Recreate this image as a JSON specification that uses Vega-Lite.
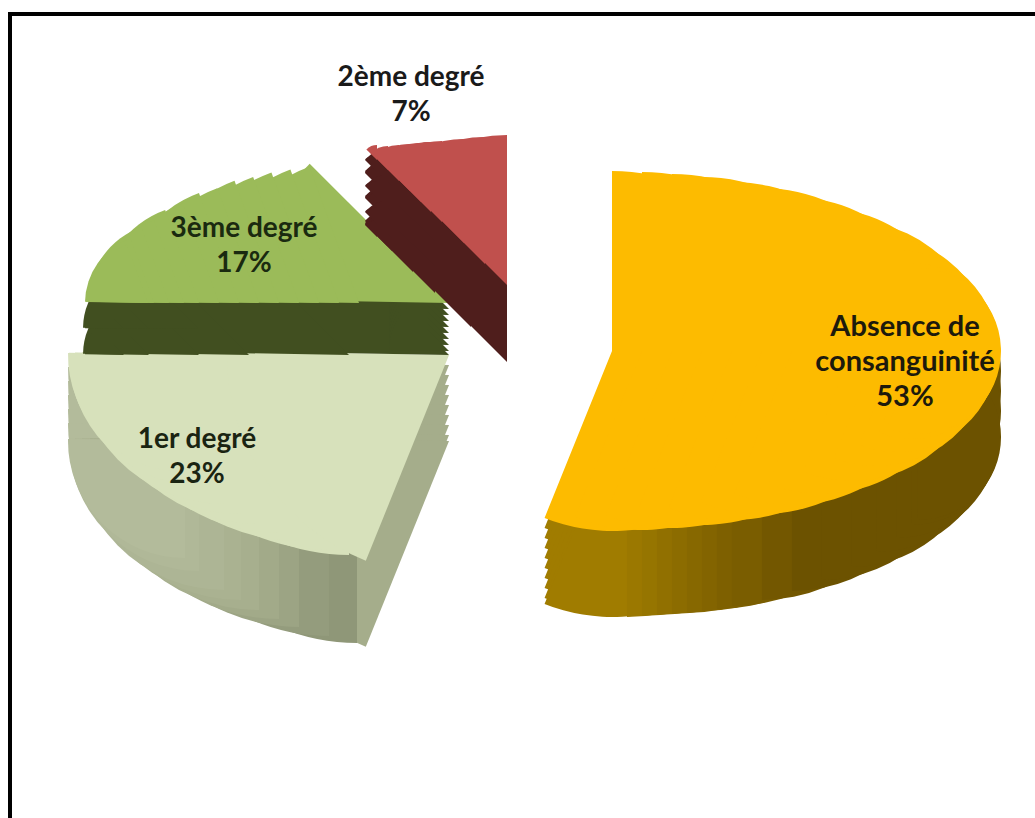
{"$schema":"https://vega.github.io/schema/vega-lite/v6.json","description":"Répartition selon le degré de consanguinité","width":1040,"height":820,"autosize":"none","padding":{"left":10,"top":14,"right":0,"bottom":0},"background":"white","view":{"stroke":"#000","strokeWidth":4,"fill":"white"},
"data":{"values":[{"rang":1,"nom":"Absence de|consanguinité","part":53},{"rang":2,"nom":"1er degré","part":23},{"rang":3,"nom":"3ème degré","part":17},{"rang":4,"nom":"2ème degré","part":7}]},
"transform":[{"stack":"part","groupby":[],"sort":[{"field":"rang"}],"as":["debut","fin"]},{"calculate":"datum.nom+'|'+datum.part+'%'","as":"etiquette"}],
"resolve":{"scale":{"theta":"independent"}},
"layer":[
{"transform":[{"filter":"datum.rang==1"}],"encoding":{"theta":{"field":"debut","type":"quantitative","scale":{"domain":[0,53,76,93,100],"range":[0,3.5256,4.7298,5.4978,6.2832]}},"theta2":{"field":"fin"},"fill":{"value":"#a07c00"}},"layer":[
{"mark":{"type":"arc","outerRadius":180,"xOffset":82,"yOffset":-63}},{"mark":{"type":"arc","outerRadius":180,"xOffset":82,"yOffset":-53}},{"mark":{"type":"arc","outerRadius":180,"xOffset":82,"yOffset":-43}},{"mark":{"type":"arc","outerRadius":180,"xOffset":82,"yOffset":-33}},{"mark":{"type":"arc","outerRadius":180,"xOffset":82,"yOffset":-23}},{"mark":{"type":"arc","outerRadius":180,"xOffset":82,"yOffset":-13}},{"mark":{"type":"arc","outerRadius":180,"xOffset":82,"yOffset":-3}},{"mark":{"type":"arc","outerRadius":180,"xOffset":82,"yOffset":7}},{"mark":{"type":"arc","outerRadius":180,"xOffset":82,"yOffset":13}}
]},
{"transform":[{"filter":"datum.rang==1"}],"encoding":{"theta":{"field":"debut","type":"quantitative","scale":{"domain":[0,53,76,93,100],"range":[0,3.1416,4.7298,5.934,6.2832]}},"theta2":{"field":"fin"}},"layer":[
{"mark":{"type":"arc","fill":"#6c5200","outerRadius":88,"xOffset":382,"yOffset":-53}},{"mark":{"type":"arc","fill":"#6c5200","outerRadius":83,"xOffset":388,"yOffset":-53}},{"mark":{"type":"arc","fill":"#6c5200","outerRadius":88,"xOffset":382,"yOffset":-33}},{"mark":{"type":"arc","fill":"#6c5200","outerRadius":83,"xOffset":388,"yOffset":-33}},{"mark":{"type":"arc","fill":"#6c5200","outerRadius":88,"xOffset":382,"yOffset":-13}},{"mark":{"type":"arc","fill":"#6c5200","outerRadius":83,"xOffset":388,"yOffset":-13}},
{"mark":{"type":"arc","fill":"#9b7800","outerRadius":180,"xOffset":97,"yOffset":13}},{"mark":{"type":"arc","fill":"#967500","outerRadius":179,"xOffset":112,"yOffset":13}},{"mark":{"type":"arc","fill":"#917000","outerRadius":178,"xOffset":127,"yOffset":13}},{"mark":{"type":"arc","fill":"#8c6c00","outerRadius":177,"xOffset":142,"yOffset":13}},{"mark":{"type":"arc","fill":"#876800","outerRadius":176,"xOffset":157,"yOffset":13}},{"mark":{"type":"arc","fill":"#836400","outerRadius":174,"xOffset":172,"yOffset":13}},{"mark":{"type":"arc","fill":"#7e6000","outerRadius":172,"xOffset":187,"yOffset":13}},{"mark":{"type":"arc","fill":"#7a5d00","outerRadius":169,"xOffset":202,"yOffset":13}},{"mark":{"type":"arc","fill":"#735700","outerRadius":163,"xOffset":232,"yOffset":13}},{"mark":{"type":"arc","fill":"#6c5200","outerRadius":154,"xOffset":262,"yOffset":13}},{"mark":{"type":"arc","fill":"#6c5200","outerRadius":143,"xOffset":292,"yOffset":13}},{"mark":{"type":"arc","fill":"#6c5200","outerRadius":130,"xOffset":322,"yOffset":13}},{"mark":{"type":"arc","fill":"#6c5200","outerRadius":115,"xOffset":347,"yOffset":13}},{"mark":{"type":"arc","fill":"#6c5200","outerRadius":101,"xOffset":367,"yOffset":13}},{"mark":{"type":"arc","fill":"#6c5200","outerRadius":88,"xOffset":382,"yOffset":13}},{"mark":{"type":"arc","fill":"#6c5200","outerRadius":83,"xOffset":388,"yOffset":13}}
]},
{"transform":[{"filter":"datum.rang==1"}],"encoding":{"theta":{"field":"debut","type":"quantitative","scale":{"domain":[0,53,76,93,100],"range":[0,3.5256,4.7298,5.4978,6.2832]}},"theta2":{"field":"fin"},"fill":{"value":"#fdbb00"}},"layer":[
{"mark":{"type":"arc","outerRadius":180,"xOffset":82,"yOffset":-73}},{"mark":{"type":"arc","outerRadius":179,"xOffset":112,"yOffset":-73}},{"mark":{"type":"arc","outerRadius":177,"xOffset":142,"yOffset":-73}},{"mark":{"type":"arc","outerRadius":174,"xOffset":172,"yOffset":-73}},{"mark":{"type":"arc","outerRadius":169,"xOffset":202,"yOffset":-73}},{"mark":{"type":"arc","outerRadius":163,"xOffset":232,"yOffset":-73}},{"mark":{"type":"arc","outerRadius":154,"xOffset":262,"yOffset":-73}},{"mark":{"type":"arc","outerRadius":143,"xOffset":292,"yOffset":-73}},{"mark":{"type":"arc","outerRadius":130,"xOffset":322,"yOffset":-73}},{"mark":{"type":"arc","outerRadius":115,"xOffset":347,"yOffset":-73}},{"mark":{"type":"arc","outerRadius":101,"xOffset":367,"yOffset":-73}},{"mark":{"type":"arc","outerRadius":88,"xOffset":382,"yOffset":-73}},{"mark":{"type":"arc","outerRadius":83,"xOffset":388,"yOffset":-73}}
]},
{"transform":[{"filter":"datum.rang==2"}],"encoding":{"theta":{"field":"debut","type":"quantitative","scale":{"domain":[0,53,76,93,100],"range":[0,3.5256,4.7298,5.4978,6.2832]}},"theta2":{"field":"fin"},"fill":{"value":"#a5ad8b"}},"layer":[
{"mark":{"type":"arc","outerRadius":222,"xOffset":-81,"yOffset":-59}},{"mark":{"type":"arc","outerRadius":222,"xOffset":-81,"yOffset":-49}},{"mark":{"type":"arc","outerRadius":222,"xOffset":-81,"yOffset":-39}},{"mark":{"type":"arc","outerRadius":222,"xOffset":-81,"yOffset":-29}},{"mark":{"type":"arc","outerRadius":222,"xOffset":-81,"yOffset":-19}},{"mark":{"type":"arc","outerRadius":222,"xOffset":-81,"yOffset":-9}},{"mark":{"type":"arc","outerRadius":222,"xOffset":-81,"yOffset":1}},{"mark":{"type":"arc","outerRadius":222,"xOffset":-81,"yOffset":11}},{"mark":{"type":"arc","outerRadius":222,"xOffset":-81,"yOffset":17}}
]},
{"transform":[{"filter":"datum.rang==2"}],"encoding":{"theta":{"field":"debut","type":"quantitative","scale":{"domain":[0,53,76,93,100],"range":[0,3.1416,4.7298,5.934,6.2832]}},"theta2":{"field":"fin"}},"layer":[
{"mark":{"type":"arc","fill":"#b3bb9b","outerRadius":117,"xOffset":-345,"yOffset":-55}},{"mark":{"type":"arc","fill":"#b3bb9b","outerRadius":117,"xOffset":-345,"yOffset":-41}},{"mark":{"type":"arc","fill":"#b3bb9b","outerRadius":117,"xOffset":-345,"yOffset":-27}},{"mark":{"type":"arc","fill":"#b3bb9b","outerRadius":117,"xOffset":-345,"yOffset":-13}},{"mark":{"type":"arc","fill":"#b3bb9b","outerRadius":117,"xOffset":-345,"yOffset":1}},
{"mark":{"type":"arc","fill":"#8f9778","outerRadius":202,"xOffset":-173,"yOffset":17}},{"mark":{"type":"arc","fill":"#949c7d","outerRadius":195,"xOffset":-201,"yOffset":17}},{"mark":{"type":"arc","fill":"#9ca484","outerRadius":186,"xOffset":-231,"yOffset":17}},{"mark":{"type":"arc","fill":"#a2aa89","outerRadius":178,"xOffset":-251,"yOffset":17}},{"mark":{"type":"arc","fill":"#a7af8e","outerRadius":169,"xOffset":-271,"yOffset":17}},{"mark":{"type":"arc","fill":"#aab291","outerRadius":159,"xOffset":-289,"yOffset":17}},{"mark":{"type":"arc","fill":"#adb595","outerRadius":149,"xOffset":-306,"yOffset":17}},{"mark":{"type":"arc","fill":"#b0b898","outerRadius":130,"xOffset":-331,"yOffset":17}},{"mark":{"type":"arc","fill":"#b3bb9b","outerRadius":117,"xOffset":-345,"yOffset":17}},
{"mark":{"type":"arc","fill":"#d7e1bb","outerRadius":200,"xOffset":-181,"yOffset":-69}},{"mark":{"type":"arc","fill":"#d7e1bb","outerRadius":195,"xOffset":-201,"yOffset":-69}},{"mark":{"type":"arc","fill":"#d7e1bb","outerRadius":186,"xOffset":-231,"yOffset":-69}},{"mark":{"type":"arc","fill":"#d7e1bb","outerRadius":178,"xOffset":-251,"yOffset":-69}},{"mark":{"type":"arc","fill":"#d7e1bb","outerRadius":169,"xOffset":-271,"yOffset":-69}},{"mark":{"type":"arc","fill":"#d7e1bb","outerRadius":159,"xOffset":-289,"yOffset":-69}},{"mark":{"type":"arc","fill":"#d7e1bb","outerRadius":149,"xOffset":-306,"yOffset":-69}},{"mark":{"type":"arc","fill":"#d7e1bb","outerRadius":130,"xOffset":-331,"yOffset":-69}},{"mark":{"type":"arc","fill":"#d7e1bb","outerRadius":117,"xOffset":-345,"yOffset":-69}}
]},
{"transform":[{"filter":"datum.rang==2"}],"encoding":{"theta":{"field":"debut","type":"quantitative","scale":{"domain":[0,53,76,93,100],"range":[0,3.5256,4.7298,5.4978,6.2832]}},"theta2":{"field":"fin"}},"mark":{"type":"arc","fill":"#d7e1bb","outerRadius":222,"xOffset":-81,"yOffset":-69}},
{"transform":[{"filter":"datum.rang==3"}],"encoding":{"theta":{"field":"debut","type":"quantitative","scale":{"domain":[0,53,76,93,100],"range":[0,3.5256,4.7298,5.4978,6.2832]}},"theta2":{"field":"fin"}},"layer":[
{"mark":{"type":"arc","fill":"#414f20","outerRadius":197,"xOffset":-81,"yOffset":-69}},{"mark":{"type":"arc","fill":"#414f20","outerRadius":170,"xOffset":-181,"yOffset":-69}},{"mark":{"type":"arc","fill":"#414f20","outerRadius":128,"xOffset":-281,"yOffset":-69}},{"mark":{"type":"arc","fill":"#414f20","outerRadius":100,"xOffset":-331,"yOffset":-69}},{"mark":{"type":"arc","fill":"#414f20","outerRadius":66,"xOffset":-381,"yOffset":-69}},{"mark":{"type":"arc","fill":"#414f20","outerRadius":39,"xOffset":-406,"yOffset":-69}},{"mark":{"type":"arc","fill":"#414f20","outerRadius":100,"xOffset":-331,"yOffset":-95}},{"mark":{"type":"arc","fill":"#414f20","outerRadius":66,"xOffset":-381,"yOffset":-95}},{"mark":{"type":"arc","fill":"#414f20","outerRadius":39,"xOffset":-406,"yOffset":-95}},
{"mark":{"type":"arc","fill":"#414f20","outerRadius":60,"xOffset":-81,"yOffset":-115}},{"mark":{"type":"arc","fill":"#414f20","outerRadius":60,"xOffset":-81,"yOffset":-109}},{"mark":{"type":"arc","fill":"#414f20","outerRadius":60,"xOffset":-81,"yOffset":-103}},{"mark":{"type":"arc","fill":"#414f20","outerRadius":60,"xOffset":-81,"yOffset":-97}},{"mark":{"type":"arc","fill":"#414f20","outerRadius":60,"xOffset":-81,"yOffset":-91}},{"mark":{"type":"arc","fill":"#414f20","outerRadius":60,"xOffset":-81,"yOffset":-85}},{"mark":{"type":"arc","fill":"#414f20","outerRadius":60,"xOffset":-81,"yOffset":-79}},{"mark":{"type":"arc","fill":"#414f20","outerRadius":60,"xOffset":-81,"yOffset":-73}},
{"mark":{"type":"arc","fill":"#9bbb59","outerRadius":197,"xOffset":-81,"yOffset":-121}}
]},
{"transform":[{"filter":"datum.rang==3"}],"encoding":{"theta":{"field":"debut","type":"quantitative","scale":{"domain":[0,53,76,93,100],"range":[0,3.1416,4.7298,5.934,6.2832]}},"theta2":{"field":"fin"},"fill":{"value":"#9bbb59"}},"layer":[
{"mark":{"type":"arc","outerRadius":145,"xOffset":-171,"yOffset":-121}},{"mark":{"type":"arc","outerRadius":142,"xOffset":-191,"yOffset":-121}},{"mark":{"type":"arc","outerRadius":139,"xOffset":-211,"yOffset":-121}},{"mark":{"type":"arc","outerRadius":134,"xOffset":-231,"yOffset":-121}},{"mark":{"type":"arc","outerRadius":130,"xOffset":-251,"yOffset":-121}},{"mark":{"type":"arc","outerRadius":122,"xOffset":-271,"yOffset":-121}},{"mark":{"type":"arc","outerRadius":117,"xOffset":-291,"yOffset":-121}},{"mark":{"type":"arc","outerRadius":106,"xOffset":-311,"yOffset":-121}},{"mark":{"type":"arc","outerRadius":99,"xOffset":-331,"yOffset":-121}},{"mark":{"type":"arc","outerRadius":88,"xOffset":-346,"yOffset":-121}},{"mark":{"type":"arc","outerRadius":81,"xOffset":-361,"yOffset":-121}},{"mark":{"type":"arc","outerRadius":69,"xOffset":-376,"yOffset":-121}},{"mark":{"type":"arc","outerRadius":62,"xOffset":-382,"yOffset":-121}}
]},
{"transform":[{"filter":"datum.rang==4"}],"encoding":{"theta":{"field":"debut","type":"quantitative","scale":{"domain":[0,53,76,93,100],"range":[0,3.5256,4.7298,5.4978,6.2832]}},"theta2":{"field":"fin"}},"layer":[
{"mark":{"type":"arc","fill":"#4f1e1c","outerRadius":200,"xOffset":-23,"yOffset":-62}},{"mark":{"type":"arc","fill":"#4f1e1c","outerRadius":150,"xOffset":-59,"yOffset":-97}},
{"mark":{"type":"arc","fill":"#4f1e1c","outerRadius":99,"xOffset":-95,"yOffset":-131}},{"mark":{"type":"arc","fill":"#4f1e1c","outerRadius":68,"xOffset":-117,"yOffset":-152}},{"mark":{"type":"arc","fill":"#4f1e1c","outerRadius":38,"xOffset":-138,"yOffset":-173}},{"mark":{"type":"arc","fill":"#4f1e1c","outerRadius":17,"xOffset":-153,"yOffset":-187}},
{"mark":{"type":"arc","fill":"#4f1e1c","outerRadius":99,"xOffset":-95,"yOffset":-158}},{"mark":{"type":"arc","fill":"#4f1e1c","outerRadius":68,"xOffset":-117,"yOffset":-179}},{"mark":{"type":"arc","fill":"#4f1e1c","outerRadius":38,"xOffset":-138,"yOffset":-200}},{"mark":{"type":"arc","fill":"#4f1e1c","outerRadius":17,"xOffset":-153,"yOffset":-214}},
{"mark":{"type":"arc","fill":"#4f1e1c","outerRadius":99,"xOffset":-95,"yOffset":-183}},{"mark":{"type":"arc","fill":"#4f1e1c","outerRadius":68,"xOffset":-117,"yOffset":-204}},{"mark":{"type":"arc","fill":"#4f1e1c","outerRadius":38,"xOffset":-138,"yOffset":-225}},{"mark":{"type":"arc","fill":"#4f1e1c","outerRadius":17,"xOffset":-153,"yOffset":-239}},
{"mark":{"type":"arc","fill":"#4f1e1c","outerRadius":38,"xOffset":-138,"yOffset":-186}},{"mark":{"type":"arc","fill":"#4f1e1c","outerRadius":38,"xOffset":-138,"yOffset":-212}},{"mark":{"type":"arc","fill":"#4f1e1c","outerRadius":38,"xOffset":-138,"yOffset":-238}},{"mark":{"type":"arc","fill":"#4f1e1c","outerRadius":17,"xOffset":-153,"yOffset":-200}},{"mark":{"type":"arc","fill":"#4f1e1c","outerRadius":17,"xOffset":-153,"yOffset":-226}},{"mark":{"type":"arc","fill":"#4f1e1c","outerRadius":17,"xOffset":-153,"yOffset":-252}},
{"mark":{"type":"arc","fill":"#c0504d","outerRadius":150,"xOffset":-23,"yOffset":-139}},{"mark":{"type":"arc","fill":"#c0504d","outerRadius":127,"xOffset":-45,"yOffset":-160}},{"mark":{"type":"arc","fill":"#c0504d","outerRadius":104,"xOffset":-66,"yOffset":-181}},{"mark":{"type":"arc","fill":"#c0504d","outerRadius":81,"xOffset":-88,"yOffset":-202}},{"mark":{"type":"arc","fill":"#c0504d","outerRadius":70,"xOffset":-99,"yOffset":-212}},{"mark":{"type":"arc","fill":"#c0504d","outerRadius":59,"xOffset":-109,"yOffset":-222}},{"mark":{"type":"arc","fill":"#c0504d","outerRadius":47,"xOffset":-120,"yOffset":-233}},{"mark":{"type":"arc","fill":"#c0504d","outerRadius":36,"xOffset":-131,"yOffset":-243}},{"mark":{"type":"arc","fill":"#c0504d","outerRadius":24,"xOffset":-142,"yOffset":-254}},{"mark":{"type":"arc","fill":"#c0504d","outerRadius":15,"xOffset":-153,"yOffset":-264}}
]},
{"transform":[{"filter":"datum.rang==1"}],"mark":{"type":"text","font":"Lato","fontWeight":"bold","fontSize":29,"lineHeight":35,"lineBreak":"|","align":"center","baseline":"middle","fill":"#1d1a0c","xOffset":375,"yOffset":-97},"encoding":{"text":{"field":"etiquette"}}},
{"transform":[{"filter":"datum.rang==2"}],"mark":{"type":"text","font":"Lato","fontWeight":"bold","fontSize":28,"lineHeight":35,"lineBreak":"|","align":"center","baseline":"middle","fill":"#1a2412","xOffset":-333,"yOffset":16},"encoding":{"text":{"field":"etiquette"}}},
{"transform":[{"filter":"datum.rang==3"}],"mark":{"type":"text","font":"Lato","fontWeight":"bold","fontSize":28,"lineHeight":35,"lineBreak":"|","align":"center","baseline":"middle","fill":"#1a2a10","xOffset":-286,"yOffset":-195},"encoding":{"text":{"field":"etiquette"}}},
{"transform":[{"filter":"datum.rang==4"}],"mark":{"type":"text","font":"Lato","fontWeight":"bold","fontSize":28,"lineHeight":35,"lineBreak":"|","align":"center","baseline":"middle","fill":"#1a1a1a","xOffset":-119,"yOffset":-346},"encoding":{"text":{"field":"etiquette"}}}
]}
